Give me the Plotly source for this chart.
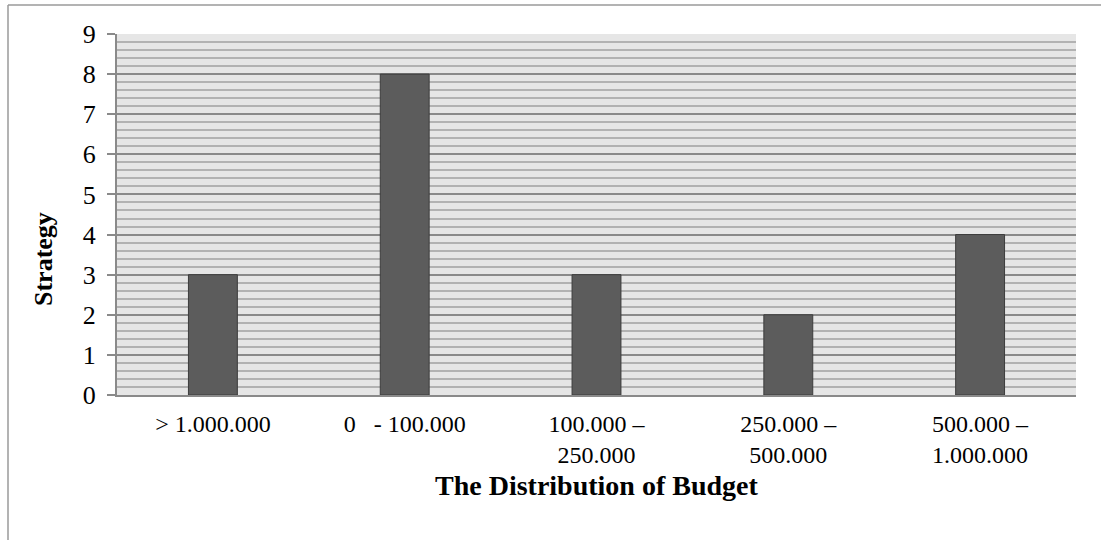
import plotly.graph_objects as go

# Budget bands and number of strategies in each
categories = ["> 1.000.000", "0   - 100.000", "100.000 –<br>250.000",
              "250.000 –<br>500.000", "500.000 –<br>1.000.000"]
strategy_counts = [3, 8, 3, 2, 4]
y_ticks = list(range(0, 10))

FONT = "Liberation Serif, Times New Roman, serif"
W, H = 1101, 540
L, R, T, B = 117, 25, 34, 145
PW, PH = W - L - R, H - T - B


def px_x(x):
    return (x - L) / PW


def px_y(y):
    return (H - B - y) / PH


fig = go.Figure(
    go.Bar(
        x=categories,
        y=strategy_counts,
        width=0.255,
        marker=dict(color="#5c5c5c", line=dict(color="#3c3c3c", width=1)),
        hoverinfo="x+y",
    )
)

fig.update_layout(
    width=W,
    height=H,
    margin=dict(l=L, r=R, t=T, b=B),
    paper_bgcolor="white",
    plot_bgcolor="#e6e6e6",
    showlegend=False,
    font=dict(family=FONT, color="black"),
    xaxis=dict(
        type="category",
        showgrid=False,
        zeroline=False,
        showline=True,
        linecolor="#8a8a8a",
        linewidth=2,
        ticks="",
        tickfont=dict(size=24, family=FONT),
        ticklabelstandoff=6,
    ),
    yaxis=dict(
        range=[0, 9],
        tickvals=y_ticks,
        showgrid=True,
        gridcolor="#8a8a8a",
        gridwidth=1.6,
        zeroline=False,
        showline=True,
        linecolor="#8a8a8a",
        linewidth=2,
        ticks="outside",
        ticklen=8,
        tickcolor="#8a8a8a",
        tickwidth=1.5,
        tickfont=dict(size=26, family=FONT),
        ticklabelstandoff=6,
        minor=dict(dtick=0.2, showgrid=True, gridcolor="#b2b2b2", gridwidth=1.5, ticks=""),
    ),
    annotations=[
        dict(
            text="<b>The Distribution of Budget</b>",
            xref="paper", yref="paper",
            x=0.5, y=px_y(485),
            xanchor="center", yanchor="middle",
            showarrow=False,
            font=dict(size=28, family=FONT),
        ),
        dict(
            text="<b>Strategy</b>",
            xref="paper", yref="paper",
            x=px_x(43), y=px_y(259),
            xanchor="center", yanchor="middle",
            textangle=-90,
            showarrow=False,
            font=dict(size=26, family=FONT),
        ),
    ],
    shapes=[
        dict(type="line", xref="paper", yref="paper",
             x0=px_x(8), x1=px_x(1101), y0=px_y(5), y1=px_y(5),
             line=dict(color="#9a9a9a", width=1.5)),
        dict(type="line", xref="paper", yref="paper",
             x0=px_x(8), x1=px_x(8), y0=px_y(5), y1=px_y(540),
             line=dict(color="#9a9a9a", width=1.5)),
    ],
)

fig.write_html("out.html")
